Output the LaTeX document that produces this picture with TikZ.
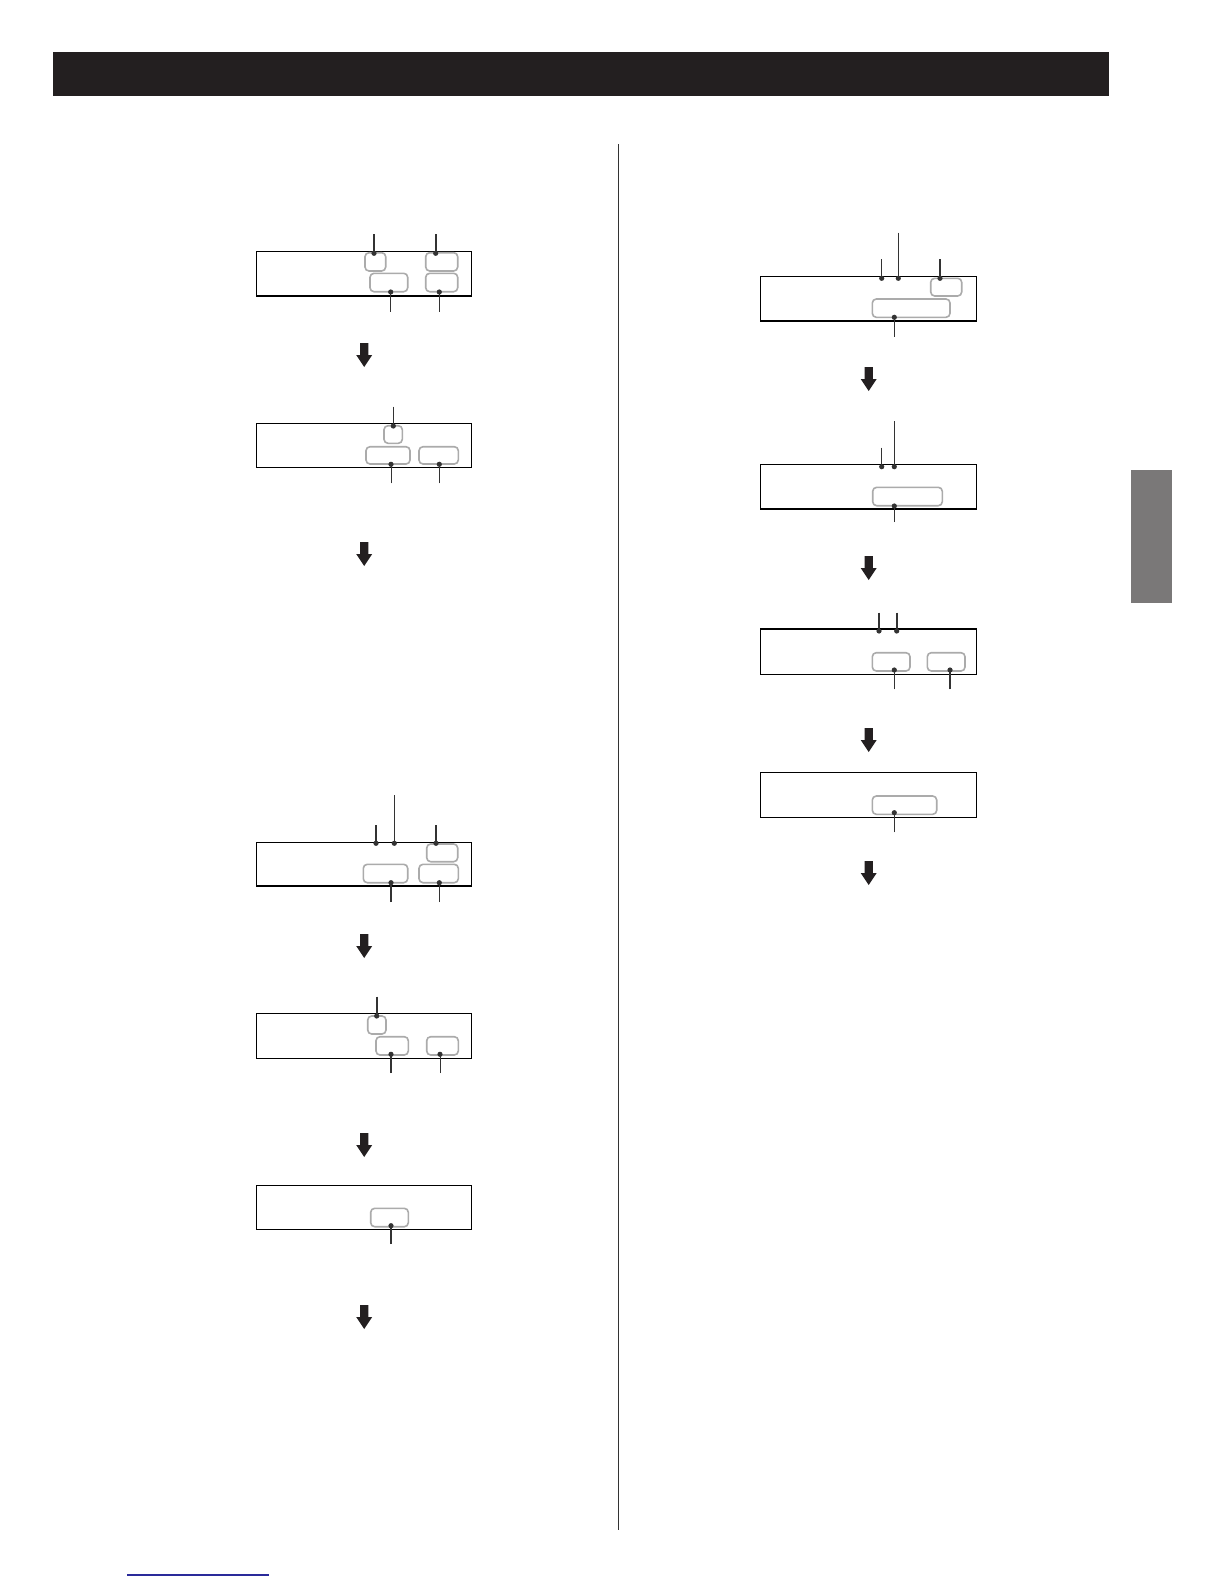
\documentclass[tikz,border=0pt]{standalone}
\definecolor{gboxc}{HTML}{ABABAB}
\definecolor{coc}{HTML}{333333}
\definecolor{arrc}{HTML}{231F20}
\definecolor{headc}{HTML}{231F20}
\definecolor{tabc}{HTML}{7A7878}
\definecolor{linkc}{HTML}{2A2A9A}
\tikzset{
  disp/.style={draw=black, line width=0.65pt, inner sep=0pt, outer sep=0pt},
  gbox/.style={draw=gboxc, line width=0.8pt, rounded corners=2pt, inner sep=0pt, outer sep=0pt},
  cothick/.style={draw=coc, line width=0.8pt},
  cothin/.style={draw=coc, line width=0.45pt},
  arr/.style={fill=arrc},
}
\newcommand\boxnode[6]{\node[#2, minimum width={(#5-#3)*0.5pt}, minimum height={(#6-#4)*0.5pt}] (#1) at ({(#3+#5)/2},{(#4+#6)/2}) {};}
\newcommand\callout[5]{\coordinate (#1-d) at (#2,#3); \coordinate (#1-e) at (#2,#4); \draw[#5] (#1-e) -- (#1-d); \fill[coc] (#1-d) circle (2.6);}
\newcommand\blockarrow[3]{\coordinate (#1) at (#2,#3);
  \fill[arr] ({#2-4.2},#3) -- ({#2+4.2},#3) -- ({#2+4.2},{#3+12}) -- ({#2+8},{#3+12}) -- (#2,{#3+24}) -- ({#2-8},{#3+12}) -- ({#2-4.2},{#3+12}) -- cycle;}
\begin{document}
\begin{tikzpicture}[x=0.5pt,y=-0.5pt]
\fill[white] (0,0) rectangle (1224,1584);
\useasboundingbox (0,0) rectangle (1224,1584);
% header bar
\fill[headc] (52.5,52.5) rectangle (1109,96);
% column separator
\draw[color=coc, line width=0.5pt] (618,144) -- (618,1530);
% side tab
\fill[tabc] (1131,470) rectangle (1171.7,602.7);
% link underline
\draw[color=linkc, line width=0.6pt] (127.3,1575) -- (269,1575);

% ---------- left column ----------
\boxnode{d1}{disp}{256.7}{251.7}{471.7}{296}
\boxnode{g1a}{gbox}{365}{252.7}{385.7}{271}
\boxnode{g1b}{gbox}{425.7}{252.7}{457.7}{271}
\boxnode{g1c}{gbox}{370}{273.3}{407.7}{291.7}
\boxnode{g1d}{gbox}{425.7}{273.3}{457.7}{291.7}
\callout{c1a}{374}{253.3}{234}{cothick}
\callout{c1b}{435.7}{253.3}{234}{cothick}
\callout{c1c}{390.7}{292}{311.7}{cothin}
\callout{c1d}{439.3}{292}{311.7}{cothick}
\blockarrow{a1}{364.2}{343}

\boxnode{d2}{disp}{256.7}{423.3}{471.7}{467.3}
\boxnode{g2a}{gbox}{384}{425.7}{402.3}{443.3}
\boxnode{g2b}{gbox}{366}{446.7}{410}{464}
\boxnode{g2c}{gbox}{419}{446.7}{458.3}{464}
\callout{c2a}{393.3}{426}{406.7}{cothick}
\callout{c2b}{391}{464.3}{483.3}{cothin}
\callout{c2c}{439.3}{464.3}{483.3}{cothick}
\blockarrow{a2}{364.2}{542}

\boxnode{d3}{disp}{256.7}{842.3}{471.7}{886}
\boxnode{g3a}{gbox}{426.7}{844}{457.7}{861.7}
\boxnode{g3b}{gbox}{363.3}{864.3}{407.7}{882.7}
\boxnode{g3c}{gbox}{419}{864.3}{458.3}{882.7}
\callout{c3a}{376}{843.3}{825}{cothick}
\callout{c3b}{394.3}{843.3}{795}{cothick}
\callout{c3c}{436}{843.3}{825}{cothick}
\callout{c3d}{391}{882.7}{902}{cothick}
\callout{c3e}{439.3}{882.7}{902}{cothin}
\blockarrow{a3}{364.2}{934}

\boxnode{d4}{disp}{256.7}{1013.3}{471.7}{1058.3}
\boxnode{g4a}{gbox}{367.7}{1016}{386}{1034}
\boxnode{g4b}{gbox}{376}{1036.7}{408.3}{1055}
\boxnode{g4c}{gbox}{426.7}{1036.7}{458.3}{1055}
\callout{c4a}{376.7}{1016}{996.7}{cothick}
\callout{c4b}{391}{1054.3}{1073}{cothick}
\callout{c4c}{440}{1054.3}{1073}{cothin}
\blockarrow{a4}{364.2}{1133}

\boxnode{d5}{disp}{256.7}{1185.7}{471.7}{1229.3}
\boxnode{g5a}{gbox}{370.7}{1208.3}{408.3}{1226.7}
\callout{c5a}{391}{1225.7}{1244}{cothick}
\blockarrow{a5}{364.2}{1305}

% ---------- right column ----------
\boxnode{r1}{disp}{760.7}{276.7}{976.7}{321}
\boxnode{h1a}{gbox}{930.7}{278.3}{961.7}{296}
\boxnode{h1b}{gbox}{872.3}{299}{950}{317.3}
\callout{e1a}{881.7}{278.3}{259.3}{cothin}
\callout{e1b}{898.3}{278.3}{232.7}{cothick}
\callout{e1c}{940}{278.3}{259.3}{cothick}
\callout{e1d}{894.3}{317.3}{336.7}{cothick}
\blockarrow{b1}{868.7}{367}

\boxnode{r2}{disp}{760.7}{464.3}{976.7}{509}
\boxnode{h2a}{gbox}{872.7}{487.3}{942.3}{505.7}
\callout{e2a}{881.7}{466.7}{447.7}{cothin}
\callout{e2b}{894.3}{466.7}{421}{cothick}
\callout{e2c}{894.3}{506}{522}{cothick}
\blockarrow{b2}{868.7}{556}

\boxnode{r3}{disp}{760.7}{629}{976.7}{674.3}
\boxnode{h3a}{gbox}{872.3}{652.7}{910}{671}
\boxnode{h3b}{gbox}{927.3}{652.7}{965}{671}
\callout{e3a}{879}{631}{612.7}{cothick}
\callout{e3b}{896.7}{631}{612.7}{cothick}
\callout{e3c}{894.3}{670}{689.3}{cothick}
\callout{e3d}{950}{670}{689.3}{cothick}
\blockarrow{b3}{868.7}{728}

\boxnode{r4}{disp}{760.7}{772.3}{976.7}{817.3}
\boxnode{h4a}{gbox}{872.3}{796}{936.7}{814.3}
\callout{e4a}{894.3}{812.7}{832.3}{cothick}
\blockarrow{b4}{868.7}{861}
\end{tikzpicture}
\end{document}
